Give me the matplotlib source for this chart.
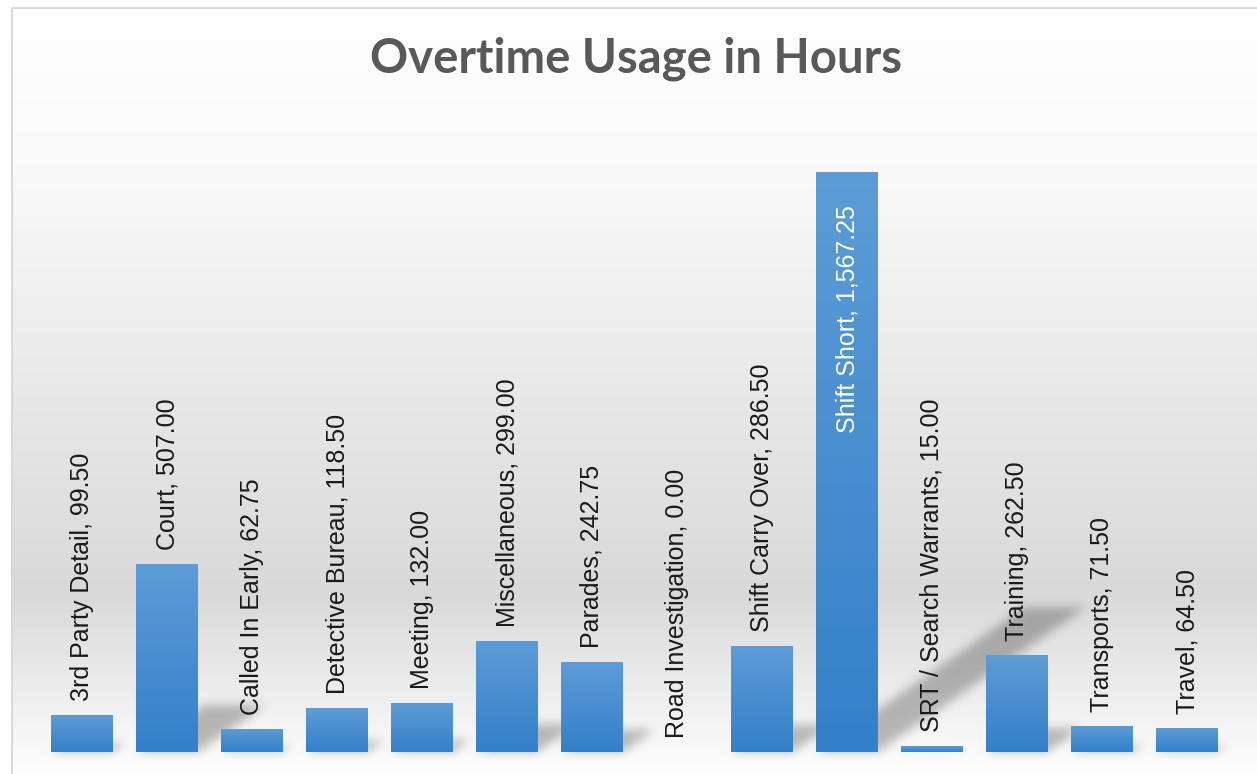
import numpy as np
import matplotlib
matplotlib.use("Agg")
import matplotlib.pyplot as plt
from matplotlib.colors import LinearSegmentedColormap
from matplotlib.patches import Rectangle
from matplotlib.path import Path

categories = ["3rd Party Detail", "Court", "Called In Early", "Detective Bureau", "Meeting",
              "Miscellaneous", "Parades", "Road Investigation", "Shift Carry Over", "Shift Short",
              "SRT / Search Warrants", "Training", "Transports", "Travel"]
values = [99.50, 507.00, 62.75, 118.50, 132.00, 299.00, 242.75, 0.00, 286.50, 1567.25,
          15.00, 262.50, 71.50, 64.50]
title = "Overtime Usage in Hours"

W, H = 1257, 774
fig = plt.figure(figsize=(W / 100, H / 100), dpi=100)
fig.patch.set_facecolor("white")

# background gradient of chart area
bg = fig.add_axes([0, 0, 1, 1], zorder=-2)
bg.set_axis_off()
bg_cmap = LinearSegmentedColormap.from_list(
    "bg", [(0.0, "#ffffff"), (0.2, "#fafafa"), (0.76, "#d9d9d9"), (1.0, "#ffffff")])
grad = np.linspace(0, 1, 256).reshape(-1, 1)
bg.imshow(grad, cmap=bg_cmap, aspect="auto", extent=[12, W + 5, H + 5, 8], zorder=0)
bg.set_xlim(0, W)
bg.set_ylim(H, 0)
bg.add_patch(Rectangle((12, 8), W, H + 10, fill=False, edgecolor="#d9d9d9", lw=1.5, zorder=3))

# plot axes
left, right = 39.5, 1229.5
base, top = 752, 86
ax = fig.add_axes([left / W, (H - base) / H, (right - left) / W, (base - top) / H])
ax.set_facecolor("none")
ax.set_axis_off()

x = np.arange(len(categories))
bars = ax.bar(x, values, width=0.72, color="none", edgecolor="none", zorder=2)
bar_cmap = LinearSegmentedColormap.from_list("bar", ["#3480c9", "#5d9cd6"])
for b in bars:
    h = b.get_height()
    if h <= 0:
        continue
    x0 = b.get_x()
    im = ax.imshow(grad, cmap=bar_cmap, origin="lower", aspect="auto",
                   extent=[x0, x0 + b.get_width(), 0, h], zorder=2, interpolation="bilinear")
    im.set_clip_path(b)
ax.set_xlim(-0.5, len(categories) - 0.5)
ax.set_ylim(0, 1800)

# soft perspective shadows behind bars (computed from bar geometry)
mask = np.zeros((H, W))
for b in bars:
    h = b.get_height()
    if h <= 0:
        continue
    (xl, yb), (xr, yt) = ax.transData.transform([(b.get_x(), 0), (b.get_x() + b.get_width(), h)])
    hp = yt - yb
    rb = H - yb
    verts = [(xl, rb), (xr, rb), (xr + 0.36 * hp, rb - 0.25 * hp), (xl + 0.36 * hp, rb - 0.25 * hp)]
    p = Path(verts + [verts[0]], closed=True)
    c0, c1 = int(max(xl - 2, 0)), int(min(xr + 0.36 * hp + 3, W))
    r0, r1 = int(max(rb - 0.25 * hp - 3, 0)), int(min(rb + 2, H))
    cc, rr = np.meshgrid(np.arange(c0, c1) + 0.5, np.arange(r0, r1) + 0.5)
    inside = p.contains_points(np.column_stack([cc.ravel(), rr.ravel()])).reshape(cc.shape)
    mask[r0:r1, c0:c1] = np.maximum(mask[r0:r1, c0:c1], inside.astype(float))

sig = 5.0
k = np.arange(-15, 16)
kern = np.exp(-k ** 2 / (2 * sig ** 2))
kern /= kern.sum()
mask = np.apply_along_axis(lambda r: np.convolve(r, kern, mode="same"), 1, mask)
mask = np.apply_along_axis(lambda c: np.convolve(c, kern, mode="same"), 0, mask)
shadow = np.zeros((H, W, 4))
shadow[..., 3] = mask * 0.26
bg.imshow(shadow, extent=[0, W, H, 0], aspect="auto", zorder=1, interpolation="none")
bg.set_xlim(0, W)
bg.set_ylim(H, 0)

for xi, cat, v in zip(x, categories, values):
    label = f"{cat}, {v:,.2f}"
    if v > 1000:
        ax.annotate(label, (xi, v), xytext=(0, -33), textcoords="offset pixels",
                    rotation=90, ha="center", va="top", fontsize=18,
                    family="Liberation Sans", color="white", zorder=3)
    else:
        ax.annotate(label, (xi, v), xytext=(0, 14), textcoords="offset pixels",
                    rotation=90, ha="center", va="bottom", fontsize=18,
                    family="Liberation Sans", color="#1a1a1a", zorder=3)

fig.text(636 / W, 1 - 59 / H, title, ha="center", va="center", fontsize=34,
         fontweight="bold", family="Lato", color="#595959")

fig.savefig("out.png", dpi=100)
